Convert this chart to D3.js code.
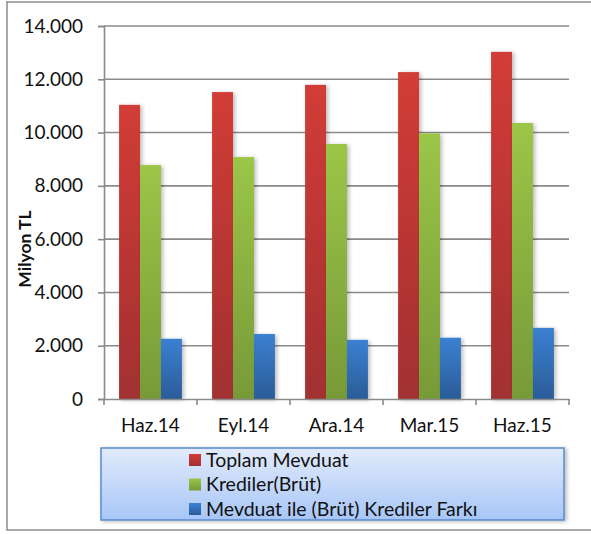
<!DOCTYPE html>
<html>
<head>
<meta charset="utf-8">
<script src="https://cdn.jsdelivr.net/npm/d3@7/dist/d3.min.js"></script>
<style>
  html, body { margin: 0; padding: 0; background: #fff; }
  svg { display: block; }
  text { font-family: Lato, "Open Sans", sans-serif; fill: #111; }
</style>
</head>
<body>
<svg id="chart" width="591" height="534"></svg>
<script>
// Dönemler
const categories = ["Haz.14", "Eyl.14", "Ara.14", "Mar.15", "Haz.15"];
// Seri adları
const seriesNames = ["Toplam Mevduat", "Krediler(Brüt)", "Mevduat ile (Brüt) Krediler Farkı"];
// Değerler (Milyon TL)
const toplamMevduat = [11040, 11520, 11790, 12270, 13030];
const krediler = [8780, 9080, 9570, 9970, 10360];
const fark = [2260, 2440, 2220, 2300, 2670];
// Y ekseni işaretleri
const yTicks = [0, 2000, 4000, 6000, 8000, 10000, 12000, 14000];
const yTickLabels = ["0", "2.000", "4.000", "6.000", "8.000", "10.000", "12.000", "14.000"];

const seriesValues = [toplamMevduat, krediler, fark];
const palette = [
  { top: "#d23c37", bottom: "#a23030" },
  { top: "#9bc647", bottom: "#779a38" },
  { top: "#3b80d2", bottom: "#2b5c98" }
];

const svg = d3.select("#chart");
const defs = svg.append("defs");

// Dış çerçeve
svg.append("rect")
  .attr("x", 7).attr("y", 2).attr("width", 600).attr("height", 528)
  .attr("fill", "#fff").attr("stroke", "#8c8c8c").attr("stroke-width", 1.5);

const plot = { left: 104, right: 569, top: 26, bottom: 399 };

const y = d3.scaleLinear().domain([0, 14000]).range([plot.bottom, plot.top]);
const x = d3.scaleBand().domain(categories).range([plot.left, plot.right]).paddingInner(0).paddingOuter(0);
const xs = d3.scaleBand().domain(d3.range(seriesNames.length))
  .range([0, x.bandwidth()]).paddingInner(0).paddingOuter(0.72);

// Gradyanlar
palette.forEach((c, i) => {
  const g = defs.append("linearGradient").attr("id", "grad" + i)
    .attr("x1", 0).attr("y1", 0).attr("x2", 0).attr("y2", 1);
  g.append("stop").attr("offset", "0%").attr("stop-color", c.top);
  g.append("stop").attr("offset", "100%").attr("stop-color", c.bottom);
});
const lg = defs.append("linearGradient").attr("id", "legendGrad")
  .attr("x1", 0).attr("y1", 0).attr("x2", 0).attr("y2", 1);
lg.append("stop").attr("offset", "0%").attr("stop-color", "#e2ebfb");
lg.append("stop").attr("offset", "100%").attr("stop-color", "#a7c6f7");

const shadow = defs.append("filter").attr("id", "shadow")
  .attr("x", "-30%").attr("y", "-10%").attr("width", "170%").attr("height", "130%");
shadow.append("feGaussianBlur").attr("in", "SourceAlpha").attr("stdDeviation", 2.2);
shadow.append("feOffset").attr("dx", 2).attr("dy", 1).attr("result", "b");
shadow.append("feComponentTransfer").append("feFuncA").attr("type", "linear").attr("slope", 0.28);
const m = shadow.append("feMerge");
m.append("feMergeNode");
m.append("feMergeNode").attr("in", "SourceGraphic");

// Izgara çizgileri
svg.append("g").selectAll("line").data(yTicks.filter(d => d > 0)).join("line")
  .attr("x1", plot.left).attr("x2", plot.right)
  .attr("y1", d => y(d)).attr("y2", d => y(d))
  .attr("stroke", "#8a8a8a").attr("stroke-width", 1.6);

// Y ekseni
const yAxis = d3.axisLeft(y).tickValues(yTicks)
  .tickFormat((d, i) => yTickLabels[i]).tickSize(6).tickPadding(15);
const gy = svg.append("g").attr("transform", `translate(${plot.left},0)`).call(yAxis);
gy.select(".domain").attr("stroke", "#8a8a8a").attr("stroke-width", 1.6);
gy.selectAll(".tick line").attr("stroke", "#8a8a8a").attr("stroke-width", 1.6);
gy.selectAll(".tick text").style("font-size", "19px").style("font-family", "Lato, sans-serif").attr("fill", "#111");

// Çubuklar
const groups = svg.append("g").selectAll("g").data(categories).join("g")
  .attr("transform", d => `translate(${x(d)},0)`);
groups.selectAll("rect")
  .data((d, ci) => seriesValues.map((vals, si) => ({ si, v: vals[ci] })))
  .join("rect")
  .attr("x", d => xs(d.si))
  .attr("width", xs.bandwidth())
  .attr("y", d => y(d.v))
  .attr("height", d => y(0) - y(d.v))
  .attr("fill", d => `url(#grad${d.si})`)
  .attr("filter", "url(#shadow)");

// X ekseni
const xAxis = d3.axisBottom(x).tickSize(0).tickPadding(20);
const gx = svg.append("g").attr("transform", `translate(0,${plot.bottom})`).call(xAxis);
gx.select(".domain").attr("stroke", "#8a8a8a").attr("stroke-width", 1.6);
gx.selectAll(".tick text").style("font-size", "19px").style("font-family", "Lato, sans-serif").attr("fill", "#111");
const boundaries = categories.map(c => x(c)).concat([plot.right]);
gx.append("g").selectAll("line").data(boundaries).join("line")
  .attr("x1", d => d).attr("x2", d => d).attr("y1", 0).attr("y2", 6)
  .attr("stroke", "#8a8a8a").attr("stroke-width", 1.6);

// Y ekseni başlığı
svg.append("text")
  .attr("transform", "translate(31,249) rotate(-90)")
  .attr("text-anchor", "middle")
  .style("font-size", "17.5px").style("font-weight", "bold")
  .text("Milyon TL");

// Lejant
const legend = svg.append("g");
legend.append("rect")
  .attr("x", 101).attr("y", 448).attr("width", 463).attr("height", 72)
  .attr("fill", "url(#legendGrad)").attr("stroke", "#5a8ad0").attr("stroke-width", 1.5)
  .attr("filter", "url(#shadow)");
const items = legend.selectAll("g.item").data(seriesNames).join("g")
  .attr("class", "item")
  .attr("transform", (d, i) => `translate(189,${454 + i * 24.5})`);
items.append("rect").attr("width", 12).attr("height", 12)
  .attr("fill", (d, i) => `url(#grad${i})`);
items.append("text").attr("x", 17).attr("y", 12.5)
  .style("font-size", "19.5px").text(d => d);
</script>
</body>
</html>
